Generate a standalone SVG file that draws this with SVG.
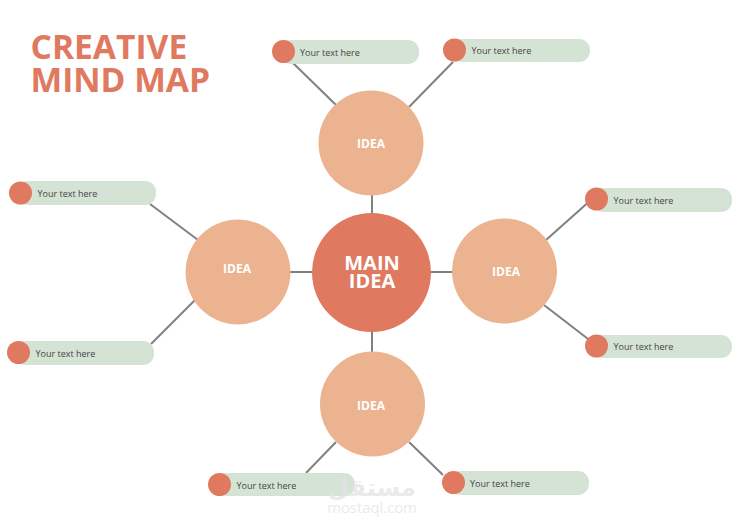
<svg xmlns="http://www.w3.org/2000/svg" width="744" height="527" viewBox="0 0 744 527">
<style>
text{font-family:"Open Sans","Noto Sans","DejaVu Sans",sans-serif}
.c line{stroke:#7f817f;stroke-width:2;fill:none}
.pill{fill:#d5e3d5}
.dot{fill:#df795f}
.idea{fill:#ecb390}
.lbl{font-size:9px;fill:#444}
.it{font-size:12px;font-weight:700;fill:#fff;text-anchor:middle}
.mt{font-size:20px;font-weight:700;fill:#fff;text-anchor:middle}
.title{font-size:33.600px;font-weight:700;fill:#df795f}
.wm{fill:#e4e4e4;text-anchor:middle}
</style>
<rect width="744" height="527" fill="#fff"/>
<g class="c" id="connectors">
<line x1="372" y1="190" x2="372" y2="216"/>
<line x1="372" y1="330" x2="372" y2="355"/>
<line x1="288" y1="272" x2="315" y2="272"/>
<line x1="429" y1="272" x2="455" y2="272"/>
<line x1="293" y1="63" x2="336" y2="105"/>
<line x1="453" y1="62" x2="409" y2="107"/>
<line x1="150" y1="204" x2="198" y2="240"/>
<line x1="151" y1="344" x2="195" y2="300"/>
<line x1="546" y1="240" x2="592" y2="199"/>
<line x1="544" y1="305" x2="592" y2="342"/>
<line x1="306" y1="473" x2="336" y2="442"/>
<line x1="443" y1="475" x2="409" y2="442"/>
</g>
<text class="title" x="30.500" y="59">CREATIVE</text>
<text class="title" x="30.500" y="92">MIND MAP</text>
<g id="main"><circle cx="371.500" cy="272.500" r="59.500" fill="#df795f"/><text class="mt" x="372" y="270">MAIN</text><text class="mt" x="372" y="288">IDEA</text></g>
<g id="idea-top"><circle class="idea" cx="371" cy="143" r="52.500"/><text class="it" x="371" y="147.500">IDEA</text></g>
<g id="idea-left"><circle class="idea" cx="238" cy="272" r="52.500"/><text class="it" x="237" y="273">IDEA</text></g>
<g id="idea-right"><circle class="idea" cx="504.500" cy="271" r="52.500"/><text class="it" x="506" y="276">IDEA</text></g>
<g id="idea-bottom"><circle class="idea" cx="372.500" cy="404" r="52.500"/><text class="it" x="371" y="409.500">IDEA</text></g>
<g id="leaf-1"><rect class="pill" x="280" y="40" width="139" height="24" rx="11"/><circle class="dot" cx="283.500" cy="51.500" r="11.500"/><text class="lbl" x="300" y="56">Your text here</text></g>
<g id="leaf-2"><rect class="pill" x="451" y="39" width="139" height="23" rx="11"/><circle class="dot" cx="454.500" cy="50" r="11.500"/><text class="lbl" x="471.500" y="54">Your text here</text></g>
<g id="leaf-3"><rect class="pill" x="17" y="181" width="139" height="24" rx="11"/><circle class="dot" cx="20.500" cy="193" r="11.500"/><text class="lbl" x="37.500" y="197">Your text here</text></g>
<g id="leaf-4"><rect class="pill" x="15" y="341" width="139" height="24" rx="11"/><circle class="dot" cx="18.500" cy="352.500" r="11.500"/><text class="lbl" x="35.500" y="357">Your text here</text></g>
<g id="leaf-5"><rect class="pill" x="593" y="188" width="139" height="24" rx="11"/><circle class="dot" cx="596.500" cy="199" r="11.500"/><text class="lbl" x="613.500" y="204">Your text here</text></g>
<g id="leaf-6"><rect class="pill" x="593" y="335" width="139" height="23" rx="11"/><circle class="dot" cx="596.500" cy="346" r="11.500"/><text class="lbl" x="613.500" y="350">Your text here</text></g>
<g id="leaf-7"><rect class="pill" x="216" y="473" width="139" height="23" rx="11"/><circle class="dot" cx="219.500" cy="484.500" r="11.500"/><text class="lbl" x="236.500" y="489">Your text here</text></g>
<g id="leaf-8"><rect class="pill" x="450" y="471" width="139" height="24" rx="11"/><circle class="dot" cx="453.500" cy="482.500" r="11.500"/><text class="lbl" x="470" y="487">Your text here</text></g>
<g id="watermark" opacity=".75"><text class="wm" x="372" y="496" style="font-size:24px;font-weight:700;font-family:'DejaVu Sans',sans-serif">مستقل</text><text class="wm" x="372" y="513" style="font-size:14.800px">mostaql.com</text></g>
</svg>
